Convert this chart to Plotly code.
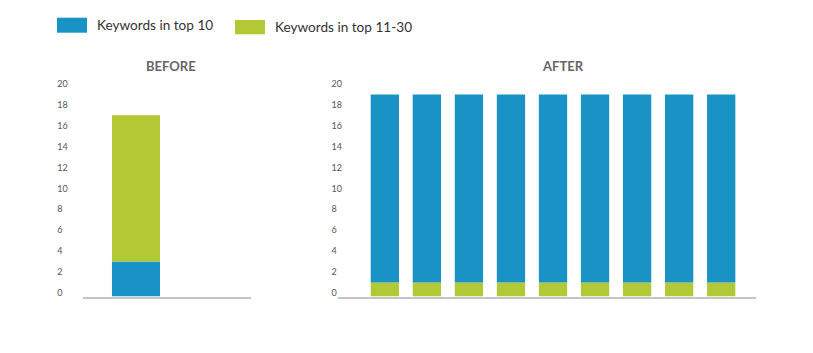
import plotly.graph_objects as go

# ---------------- data ----------------
series_names = ["Keywords in top 10", "Keywords in top 11-30"]
before_periods = ["Before"]
before_top10 = [3]
before_top11_30 = [14]
after_periods = ["P1", "P2", "P3", "P4", "P5", "P6", "P7", "P8", "P9"]
after_top10 = [18, 18, 18, 18, 18, 18, 18, 18, 18]
after_top11_30 = [1, 1, 1, 1, 1, 1, 1, 1, 1]
y_tick_values = [0, 2, 4, 6, 8, 10, 12, 14, 16, 18, 20]
panel_titles = ["BEFORE", "AFTER"]

# ---------------- style ----------------
W, H = 813, 353
BLUE = "#1992C6"
GREEN = "#B2C935"
AXIS_GRAY = "#C4C4C4"
FONT = "Lato"
Y_FLOOR = -0.35          # axis floor, bars are drawn from it
Y_TOP = 20.6


def px(x):
    return x / W


def py(y):
    return 1 - y / H


FIG_SPACE = "\u2007"
tick_text = [f"{v}" if v >= 10 else f"{v}{FIG_SPACE}" for v in y_tick_values]

fig = go.Figure()

# BEFORE: blue at the bottom, green on top
fig.add_trace(go.Bar(
    x=before_periods, y=[v - Y_FLOOR for v in before_top10], base=[Y_FLOOR] * len(before_top10),
    name=series_names[0], marker=dict(color=BLUE, line=dict(width=0)), width=0.6,
    xaxis="x", yaxis="y", showlegend=False,
    customdata=before_top10, hovertemplate="%{customdata}<extra>" + series_names[0] + "</extra>",
))
fig.add_trace(go.Bar(
    x=before_periods, y=before_top11_30, base=before_top10,
    name=series_names[1], marker=dict(color=GREEN, line=dict(width=0)), width=0.6,
    xaxis="x", yaxis="y", showlegend=False,
))

# AFTER: green at the bottom, blue on top
fig.add_trace(go.Bar(
    x=after_periods, y=[v - Y_FLOOR for v in after_top11_30], base=[Y_FLOOR] * len(after_top11_30),
    name=series_names[1], marker=dict(color=GREEN, line=dict(width=0)), width=0.673,
    xaxis="x2", yaxis="y2", showlegend=False,
    customdata=after_top11_30, hovertemplate="%{customdata}<extra>" + series_names[1] + "</extra>",
))
fig.add_trace(go.Bar(
    x=after_periods, y=after_top10, base=after_top11_30,
    name=series_names[0], marker=dict(color=BLUE, line=dict(width=0)), width=0.673,
    xaxis="x2", yaxis="y2", showlegend=False,
))

y_dom = [py(296.5), py(77.7)]

common_x = dict(showticklabels=False, showgrid=False, zeroline=False, showline=True,
                linecolor=AXIS_GRAY, linewidth=2, ticks="", fixedrange=True, type="category")
common_y = dict(range=[Y_FLOOR, Y_TOP], domain=y_dom, showgrid=False, zeroline=False,
                showline=False, ticks="", tickmode="array", tickvals=y_tick_values,
                ticktext=tick_text, tickfont=dict(family=FONT, size=9, color="#555555"),
                fixedrange=True)

fig.update_layout(
    width=W, height=H,
    margin=dict(l=0, r=0, t=0, b=0),
    paper_bgcolor="white", plot_bgcolor="white",
    barmode="overlay",
    showlegend=False,
    font=dict(family=FONT),
    xaxis=dict(common_x, domain=[px(82.7), px(251)], range=[-0.666, 1.4375], anchor="y"),
    yaxis=dict(common_y, anchor="x", ticklabelstandoff=14),
    xaxis2=dict(common_x, domain=[px(338), px(756)], range=[-1.114, 8.828], anchor="y2"),
    yaxis2=dict(common_y, anchor="x2", ticklabelstandoff=-5),
)

# legend built from shapes + text
legend_items = [
    dict(color=BLUE, x0=57, x1=87, y0=17.7, y1=32.7, tx=95.3, ty=24.6, text=series_names[0]),
    dict(color=GREEN, x0=235, x1=265, y0=20, y1=34.3, tx=273.3, ty=27.0, text=series_names[1]),
]
for it in legend_items:
    fig.add_shape(type="rect", xref="paper", yref="paper",
                  x0=px(it["x0"]), x1=px(it["x1"]), y0=py(it["y1"]), y1=py(it["y0"]),
                  fillcolor=it["color"], line=dict(width=0))
    fig.add_annotation(xref="paper", yref="paper", x=px(it["tx"]), y=py(it["ty"]),
                       xanchor="left", yanchor="middle", showarrow=False, text=it["text"],
                       font=dict(family=FONT, size=13.6, color="#333333"))

for title, cx in zip(panel_titles, [171.3, 563.3]):
    fig.add_annotation(xref="paper", yref="paper", x=px(cx), y=py(66), xanchor="center",
                       yanchor="middle", showarrow=False, text=f"<b>{title}</b>",
                       font=dict(family=FONT, size=13, color="#666666"))

fig.write_html("out.html")
